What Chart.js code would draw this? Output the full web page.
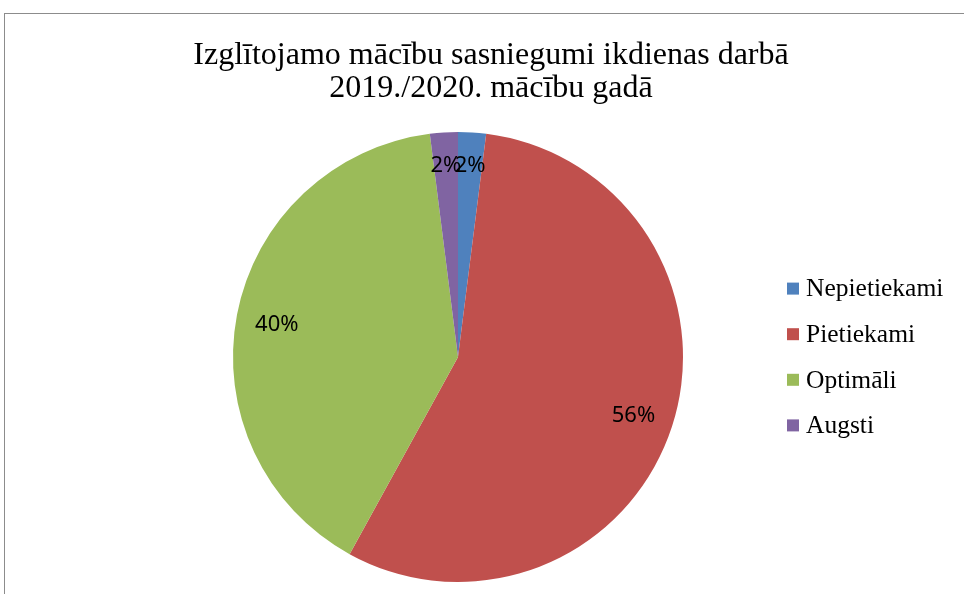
<!DOCTYPE html>
<html>
<head>
<meta charset="utf-8">
<script src="https://cdn.jsdelivr.net/npm/chart.js@4/dist/chart.umd.min.js"></script>
<style>
	html, body { margin: 0; padding: 0; background: #fff; overflow: hidden; width: 964px; height: 594px; }
	#box { position: absolute; left: 4px; top: 13px; width: 972px; height: 580px; border-left: 1px solid #8c8c8c; border-top: 1px solid #8c8c8c; }
</style>
</head>
<body>
<div id="box"><canvas id="pie" width="972" height="580"></canvas></div>
<script>
const categories = ['Nepietiekami', 'Pietiekami', 'Optimāli', 'Augsti'];
const values = [2, 56, 40, 2];
const colors = ['#4F81BD', '#C0504D', '#9BBB59', '#8064A2'];
const titleLines = ['Izglītojamo mācību sasniegumi ikdienas darbā', '2019./2020. mācību gadā'];

// title centred over the whole chart box, not over the pie
const boxTitle = {
	id: 'boxTitle',
	afterDraw(chart) {
		const ctx = chart.ctx;
		ctx.save();
		ctx.font = '32px "Liberation Serif"';
		ctx.fillStyle = '#000';
		ctx.textAlign = 'center';
		ctx.textBaseline = 'alphabetic';
		titleLines.forEach((t, i) => {
			ctx.fillText(t, chart.width / 2, 49.5 + i * 33.4);
		});
		ctx.restore();
	}
};

// percent labels inside slices
const sliceLabels = {
	id: 'sliceLabels',
	afterDatasetsDraw(chart) {
		const ctx = chart.ctx;
		const total = values.reduce((a, b) => a + b, 0);
		ctx.save();
		ctx.font = '22px "Noto Sans"';
		ctx.fillStyle = '#000';
		ctx.textAlign = 'center';
		ctx.textBaseline = 'middle';
		chart.getDatasetMeta(0).data.forEach((arc, i) => {
			const mid = (arc.startAngle + arc.endAngle) / 2;
			const f = values[i] / total < 0.05 ? 0.86 : 0.82;
			const r = arc.outerRadius * f;
			ctx.fillText(Math.round(values[i] / total * 100) + '%', arc.x + Math.cos(mid) * r, arc.y + Math.sin(mid) * r + 2);
		});
		ctx.restore();
	}
};

// legend at the right, squares + serif text
const sideLegend = {
	id: 'sideLegend',
	afterDraw(chart) {
		const ctx = chart.ctx;
		const area = chart.chartArea;
		const cy = (area.top + area.bottom) / 2;
		const step = 45.6;
		const x = area.right + 26;
		ctx.save();
		ctx.font = '25.5px "Liberation Serif"';
		ctx.textBaseline = 'middle';
		ctx.fillStyle = '#000';
		categories.forEach((c, i) => {
			const y = cy + (i - (categories.length - 1) / 2) * step;
			ctx.fillStyle = colors[i];
			ctx.fillRect(x, y - 6, 12, 12);
			ctx.fillStyle = '#000';
			ctx.fillText(c, x + 19, y + 1);
		});
		ctx.restore();
	}
};

const ctx = document.getElementById('pie').getContext('2d');
new Chart(ctx, {
	type: 'pie',
	data: {
		labels: categories,
		datasets: [{
			data: values,
			backgroundColor: colors,
			borderWidth: 0,
		}],
	},
	options: {
		responsive: false,
		animation: false,
		layout: { padding: { left: 150, right: 216, top: 118, bottom: 12 } },
		plugins: {
			legend: { display: false },
			tooltip: { enabled: false },
			title: { display: false },
		},
	},
	plugins: [sliceLabels, sideLegend, boxTitle],
});
</script>
</body>
</html>
